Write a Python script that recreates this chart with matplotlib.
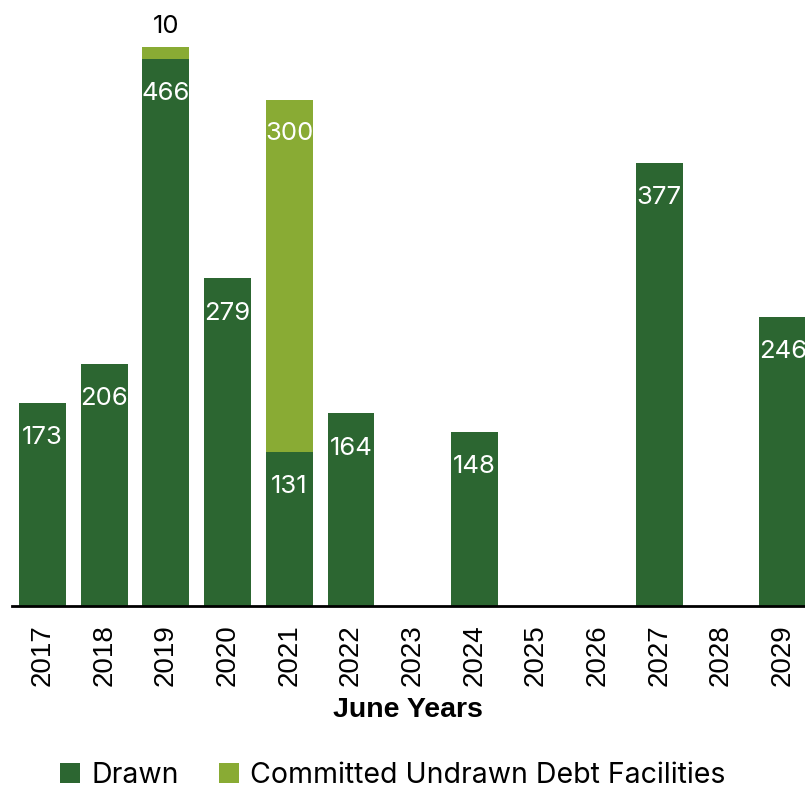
import matplotlib.pyplot as plt
import numpy as np

# Data
years = ['2017', '2018', '2019', '2020', '2021', '2022', '2023',
         '2024', '2025', '2026', '2027', '2028', '2029']
drawn = [173, 206, 466, 279, 131, 164, 0, 148, 0, 0, 377, 0, 246]
undrawn = [0, 0, 10, 0, 300, 0, 0, 0, 0, 0, 0, 0, 0]

DARK = '#2c6631'
LIGHT = '#89ab34'
LABEL_FONT = ['Inter', 'DejaVu Sans']


def main():
    fig = plt.figure(figsize=(8.05, 7.9), dpi=100)
    ax = fig.add_axes([0.0145, 0.233, 0.9855, 0.767])
    x = np.arange(len(years))
    width = 0.76

    ax.bar(x, drawn, width, color=DARK, label='Drawn')
    ax.bar(x, undrawn, width, bottom=drawn, color=LIGHT,
           label='Committed Undrawn Debt Facilities')

    # Value labels
    for i in range(len(years)):
        if drawn[i]:
            ax.annotate(str(drawn[i]), (x[i], drawn[i]), xytext=(0, -25),
                        textcoords='offset points', ha='center', va='center',
                        color='white', fontsize=18.5, family=LABEL_FONT)
        if undrawn[i]:
            top = drawn[i] + undrawn[i]
            if undrawn[i] > 50:
                ax.annotate(str(undrawn[i]), (x[i], top), xytext=(0, -24),
                            textcoords='offset points', ha='center', va='center',
                            color='white', fontsize=18.5, family=LABEL_FONT)
            else:
                ax.annotate(str(undrawn[i]), (x[i], top), xytext=(0, 15),
                            textcoords='offset points', ha='center', va='center',
                            color='black', fontsize=18.5, family=LABEL_FONT)

    ax.set_xlim(-0.5, 12.36)
    ax.set_ylim(0, 516)
    ax.set_xticks(x)
    ax.set_xticklabels(years, rotation=90, fontsize=20, family='Liberation Sans')
    ax.tick_params(axis='x', length=0, pad=13)
    ax.set_yticks([])
    for side in ['top', 'right', 'left']:
        ax.spines[side].set_visible(False)
    ax.spines['bottom'].set_linewidth(2)
    ax.spines['bottom'].set_color('black')
    ax.set_xlabel('June Years', fontsize=20.5, fontweight='bold',
                  family='Liberation Sans', labelpad=8)

    fig.legend(loc='center', bbox_to_anchor=(0.488, 0.018), ncol=2,
               frameon=False, prop={'family': 'Inter', 'size': 20.5},
               handlelength=0.7, handleheight=0.7, handletextpad=0.4,
               columnspacing=1.4)

    fig.savefig('out.png', dpi=100)


if __name__ == "__main__":
    main()
